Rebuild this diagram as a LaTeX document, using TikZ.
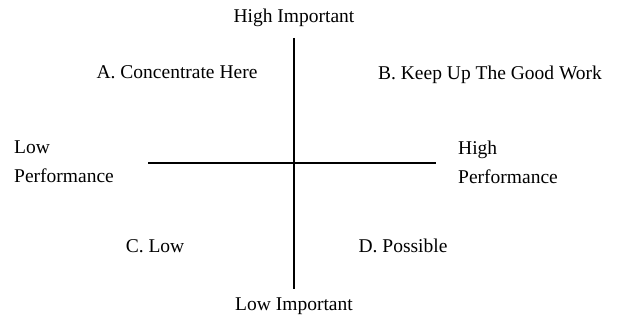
\documentclass[tikz,border=0pt]{standalone}
\usepackage{fontspec}
\setmainfont{Liberation Serif}
\usetikzlibrary{positioning}

\begin{document}
\begin{tikzpicture}[
  x=1pt, y=1pt,
  lbl/.style={font=\fontsize{19.5}{29}\selectfont, inner sep=0pt, align=center},
  side/.style={lbl, align=left, anchor=west},
  axis/.style={line width=1.3pt}
]
\useasboundingbox (0,0) rectangle (631,324);
% axes
\coordinate (top) at (294,286);
\coordinate (bot) at (294,35);
\coordinate (lft) at (148,161);
\coordinate (rgt) at (436,161);
\draw[axis] (top) -- (bot);
\draw[axis] (lft) -- (rgt);
% axis labels
\node[lbl] (hi) at (294,306) {High Important};
\node[lbl] (lo) at (294,18) {Low Important};
\node[side] (lp) at (14,162) {Low\\Performance};
\node[side] (hp) at (458,162) {High\\Performance};
% quadrants
\node[lbl] (qa) at (177,252) {A. Concentrate Here};
\node[lbl] (qb) at (490,249) {B. Keep Up The Good Work};
\node[lbl] (qc) at (155,78) {C. Low};
\node[lbl] (qd) at (403,78) {D. Possible};
\end{tikzpicture}
\end{document}
